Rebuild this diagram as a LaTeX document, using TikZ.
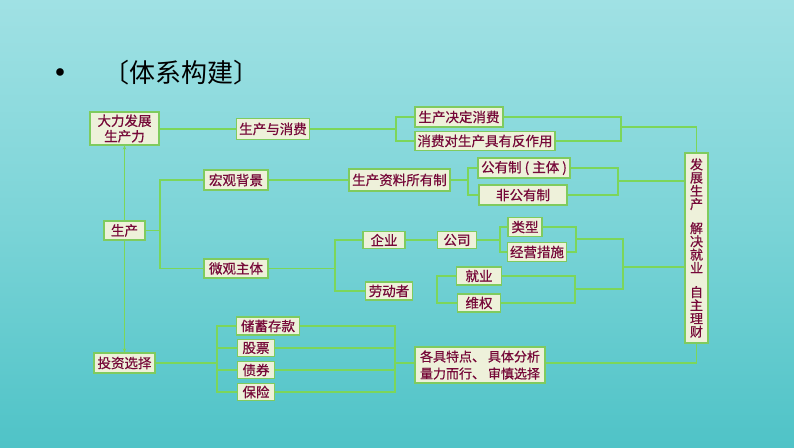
\documentclass[tikz,border=0pt]{standalone}
\usepackage{fontspec}
\newfontfamily\cjk{Noto Sans CJK SC}
\newfontfamily\cjkb[FakeBold=0.6]{Noto Sans CJK SC}
\usetikzlibrary{arrows.meta}
\definecolor{bgtop}{HTML}{A0E1E4}
\definecolor{bgmid}{HTML}{7BD4D7}
\definecolor{bgbot}{HTML}{4FC3C7}
\definecolor{boxfill}{HTML}{EEF1DA}
\definecolor{boxline}{HTML}{7FCB5E}
\definecolor{lineg}{HTML}{7CD65A}
\definecolor{txt}{HTML}{760838}
\tikzset{
  box/.style={draw=boxline, fill=boxfill, line width=1.3pt, text=txt, inner sep=1pt,
    font=\cjkb\fontsize{13.5}{15.5}\selectfont, align=center},
  ln/.style={draw=lineg, line width=1.7pt},
}
\begin{document}
\begin{tikzpicture}[x=1pt,y=-1pt]
\useasboundingbox (0,0) rectangle (794,447);
\shade[top color=bgtop, bottom color=bgbot, middle color=bgmid] (0,0) rectangle (794,447);
% title
\node (bul) at (60,75) {\fontsize{34}{34}\selectfont\textbullet};
\node[anchor=west, font=\cjk\fontsize{26}{28}\selectfont, inner sep=0pt] (title) at (103,73) {〔体系构建〕};
% junction coordinates
\coordinate (f1) at (396,129);
\coordinate (b1) at (621,127);
\coordinate (f2) at (468,180);
\coordinate (b2) at (618,181);
\coordinate (f3) at (160,230.5);
\coordinate (f4) at (335,268.5);
\coordinate (f5) at (500,240);
\coordinate (b3) at (576,239);
\coordinate (f6) at (437,289);
\coordinate (b4) at (575,289);
\coordinate (b5t) at (623,239);
\coordinate (b5b) at (623,289);
\coordinate (b5) at (623,267);
\coordinate (f7) at (217,363);
\coordinate (b6) at (395,363);
% nodes
\node[box, minimum width=69, minimum height=33] (dl) at (124.5,128.5) {大力发展\\生产力};
\node[box, minimum width=73, minimum height=21] (scx) at (273,129) {生产与消费};
\node[box, minimum width=88, minimum height=20] (jd) at (459,117) {生产决定消费};
\node[box, minimum width=140, minimum height=19] (fz) at (485,141) {消费对生产具有反作用};
\node[box, minimum width=64, minimum height=20] (hg) at (236,180) {宏观背景};
\node[box, minimum width=101, minimum height=22] (zl) at (399.5,180) {生产资料所有制};
\node[box, minimum width=92, minimum height=20] (gy) at (524,168) {公有制 ( 主体 )};
\node[box, minimum width=88, minimum height=20] (fg) at (523,195) {非公有制};
\node[box, minimum width=41, minimum height=19] (sc) at (124.5,230.5) {生产};
\node[box, minimum width=64, minimum height=19] (wg) at (236,268.5) {微观主体};
\node[box, minimum width=42, minimum height=17] (qy) at (384,240) {企业};
\node[box, minimum width=39, minimum height=17] (gs) at (457,240) {公司};
\node[box, minimum width=34, minimum height=19] (lx) at (525,227) {类型};
\node[box, minimum width=59, minimum height=19] (jy) at (537,252) {经营措施};
\node[box, minimum width=47, minimum height=18] (ld) at (389,291) {劳动者};
\node[box, minimum width=45, minimum height=18] (jiuye) at (479,276) {就业};
\node[box, minimum width=43, minimum height=18] (wq) at (479,303) {维权};
\node[box, minimum width=23, minimum height=190, font=\cjkb\fontsize{13}{13.2}\selectfont] (right) at (696.5,248)
  {发\\展\\生\\产\\[11pt]解\\决\\就\\业\\[11pt]自\\主\\理\\财};
\node[box, minimum width=63, minimum height=18] (cx) at (268,326) {储蓄存款};
\node[box, minimum width=37, minimum height=17] (gp) at (256,348) {股票};
\node[box, minimum width=37, minimum height=17] (zq) at (256,370) {债券};
\node[box, minimum width=37, minimum height=17] (bx) at (256,392) {保险};
\node[box, minimum width=61, minimum height=20] (tz) at (124.5,363) {投资选择};
\node[box, minimum width=130, minimum height=36, font=\cjkb\fontsize{13}{17}\selectfont] (gj) at (480,365)
  {各具特点、 具体分析\\量力而行、 审慎选择};
% connectors
\draw[ln] (scx.west -| dl.east) -- (scx.west);
\draw[ln] (scx.east) -- (f1);
\draw[ln] (jd.west) -| (f1) |- (fz.west);
\draw[ln] (jd.east) -| (b1) |- (fz.east);
\draw[ln] (b1) -| (right.north);
\draw[ln] (hg.east) -- (zl.west);
\draw[ln] (zl.east) -- (f2);
\draw[ln] (gy.west) -| (f2) |- (fg.west);
\draw[ln] (gy.east) -| (b2) |- (fg.east);
\draw[ln] (b2) -- (b2 -| right.west);
\draw[ln] (sc.east) -- (f3);
\draw[ln] (hg.west) -| (f3) |- (wg.west);
\draw[ln] (wg.east) -- (f4);
\draw[ln] (qy.west) -| (f4) |- (ld.west);
\draw[ln] (qy.east) -- (gs.west);
\draw[ln] (gs.east) -- (f5);
\draw[ln] (lx.west) -| (f5) |- (jy.west);
\draw[ln] (lx.east) -| (b3) |- (jy.east);
\draw[ln] (jiuye.west) -| (f6) |- (wq.west);
\draw[ln] (jiuye.east) -| (b4) |- (wq.east);
\draw[ln] (b3) -- (b5t) -- (b5b) -- (b4);
\draw[ln] (b5) -- (b5 -| right.west);
\draw[ln] (tz.east) -- (f7);
\draw[ln] (cx.west) -| (f7) |- (bx.west);
\draw[ln] (gp.west -| f7) -- (gp.west);
\draw[ln] (zq.west -| f7) -- (zq.west);
\draw[ln] (cx.east) -| (b6) |- (bx.east);
\draw[ln] (gp.east) -- (gp.east -| b6);
\draw[ln] (zq.east) -- (zq.east -| b6);
\draw[ln] (b6) -- (b6 -| gj.west);
\draw[ln] (b6 -| gj.east) -| (right.south);
\draw[ln, line width=1pt, -{Stealth[length=4pt,width=3.5pt]}] (sc.north) -- (dl.south);
\draw[ln, line width=1pt, -{Stealth[length=4pt,width=3.5pt]}] (sc.south) -- (tz.north);
\end{tikzpicture}
\end{document}
